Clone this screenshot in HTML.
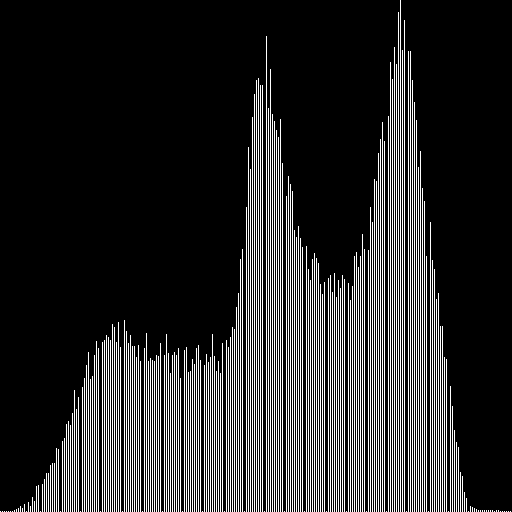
<!DOCTYPE html>
<html><head><meta charset="utf-8"><style>html,body{margin:0;padding:0;background:#000;}svg{display:block}</style></head>
<body>
<svg id="chart" width="512" height="512" viewBox="0 0 512 512" xmlns="http://www.w3.org/2000/svg" shape-rendering="crispEdges">
<rect x="0" y="0" width="512" height="512" fill="#000"/>
<g id="bars"></g>
</svg>
<script>
const counts = [
1,1,1,1,1,1,1,2,3,4,6,4,8,1,10,6,15,11,26,27,
1,28,33,39,39,47,49,49,64,63,1,71,74,88,91,87,99,122,103,115,
1,125,134,147,160,133,136,157,171,164,1,170,172,177,175,172,188,185,170,190,
165,1,192,181,
169,177,166,166,155,167,151,1,164,179,151,154,152,151,157,156,169,1,157,178,
159,139,157,160,157,164,134,1,162,165,140,141,153,148,164,167,152,1,147,158,
150,155,178,156,141,151,139,169,1,172,165,175,185,183,205,219,253,263,1,305,
365,343,395,418,
432,434,427,427,1,476,404,443,398,391,382,375,393,349,1,316,336,328,321,282,
275,286,274,265,1,266,243,232,253,259,254,249,228,218,230,1,234,237,220,239,
215,232,224,237,233,1,229,212,226,256,260,245,256,278,263,1,262,305,290,333,
331,359,373,390,
371,1,396,450,433,465,448,500,512,462,492,1,461,461,432,410,392,345,361,324,
311,256,1,290,252,243,213,219,186,186,155,153,1,126,106,82,70,65,40,36,
20,14,1,6,5,4,3,2,2,2,2,2,2,2,2,1,2,2,1,1,
1,1,1,1
];
const maxValue = 512;
const H = 512;
const binW = 2;
function xScale(i){ return i * binW; }
function yScale(v){ return H - Math.round(v / maxValue * H); }
const g = document.getElementById('bars');
counts.forEach((v, i) => {
  const r = document.createElementNS('http://www.w3.org/2000/svg', 'rect');
  
  
  r.setAttribute('x', xScale(i));
  r.setAttribute('y', yScale(v));
  r.setAttribute('width', 1);
  r.setAttribute('height', H - yScale(v));
  r.setAttribute('fill', '#fff');
  g.appendChild(r);
});
</script>
</body></html>
